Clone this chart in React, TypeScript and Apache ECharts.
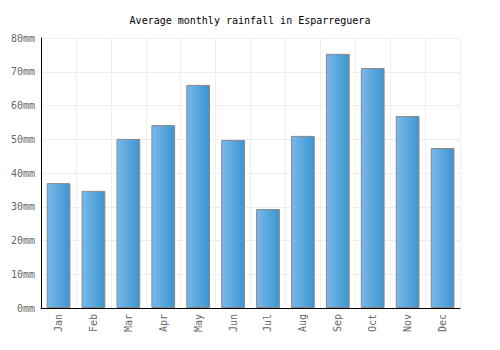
import React, { useEffect, useRef } from "react";
import * as echarts from "echarts";

const months = ["Jan", "Feb", "Mar", "Apr", "May", "Jun", "Jul", "Aug", "Sep", "Oct", "Nov", "Dec"];
const rainfall = [37.0, 34.7, 50.1, 54.2, 66.1, 49.8, 29.3, 51.0, 75.3, 71.1, 56.9, 47.4];
const title = "Average monthly rainfall in Esparreguera";

export default function App() {
  const ref = useRef<HTMLDivElement>(null);
  useEffect(() => {
    if (!ref.current) return;
    const chart = echarts.init(ref.current, null, { renderer: "svg" });
    const font = "'DejaVu Sans Mono', monospace";
    chart.setOption({
      animation: false,
      title: {
        text: title,
        left: "center",
        top: 2,
        textStyle: { fontFamily: font, fontSize: 10, fontWeight: "normal", color: "#000" },
      },
      grid: { left: 32, right: 32, top: 30, bottom: 34 },
      xAxis: {
        type: "category",
        data: months,
        axisLine: { show: true, lineStyle: { color: "#000", width: 1 } },
        axisTick: { show: false },
        axisLabel: { rotate: 90, color: "#666", fontFamily: font, fontSize: 10, margin: 6 },
        splitLine: { show: true, lineStyle: { color: "#eeeeee" } },
        boundaryGap: true,
      },
      yAxis: {
        type: "value",
        min: 0,
        max: 80,
        interval: 10,
        axisLine: { show: true, lineStyle: { color: "#000", width: 1 } },
        axisTick: { show: false },
        axisLabel: { formatter: "{value}mm", color: "#666", fontFamily: font, fontSize: 10, margin: 6 },
        splitLine: { show: true, lineStyle: { color: "#eeeeee" } },
      },
      series: [
        {
          type: "bar",
          data: rainfall,
          barCategoryGap: "32%",
          itemStyle: {
            color: new echarts.graphic.LinearGradient(0, 0, 1, 0, [
              { offset: 0, color: "#7ab8ea" },
              { offset: 1, color: "#3a96d0" },
            ]),
            borderColor: "#888",
            borderWidth: 1,
          },
        },
      ],
    });
    return () => chart.dispose();
  }, []);
  return <div ref={ref} style={{ width: 484, height: 334 }} />;
}
